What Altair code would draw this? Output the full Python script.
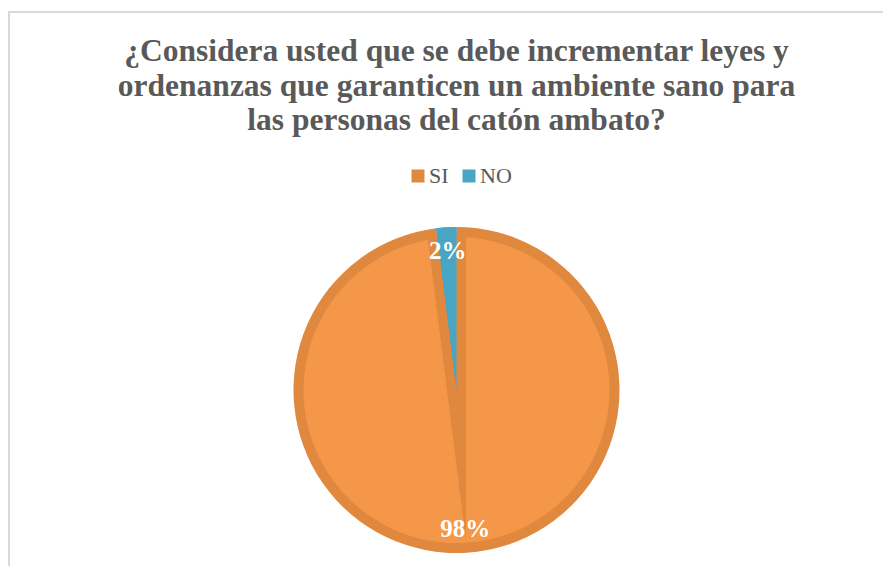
import altair as alt
import pandas as pd

categorias = ["SI", "NO"]
valores = [98, 2]
etiquetas = ["98%", "2%"]
titulo = [
    "¿Considera usted que se debe incrementar leyes y",
    "ordenanzas que garanticen un ambiente sano para",
    "las personas del catón ambato?",
]

df = pd.DataFrame({
    "cat": categorias,
    "valor": valores,
    "etiqueta": etiquetas,
    "orden": list(range(len(categorias))),
})

NARANJA = "#F59748"
NARANJA_OSC = "#E0883E"
AZUL = "#48A6C4"
GRIS = "#595959"
MARCO = "#D9D9D9"
SERIF = "Liberation Serif"

ANCHO = 853
ALTO = 352

theta = alt.Theta("valor:Q", stack=True)
order = alt.Order("orden:Q")
is_si = alt.datum.cat == "SI"

base = alt.Chart(df).encode(theta=theta, order=order)

disco = base.mark_arc(radius=163).encode(
    color=alt.Color(
        "cat:N",
        scale=alt.Scale(domain=categorias, range=[NARANJA_OSC, AZUL]),
        legend=alt.Legend(
            title=None, orient="none", legendX=377, legendY=-49,
            direction="horizontal", symbolType="square", symbolSize=169,
            symbolStrokeWidth=0, labelFont=SERIF, labelFontSize=22,
            labelColor=GRIS, columnPadding=9, labelOffset=0,
        ),
    )
)

interior = base.mark_arc(radius=153).encode(
    fill=alt.condition(is_si, alt.value(NARANJA), alt.value("transparent"))
)

banda = base.mark_arc(
    radius=148, strokeWidth=19, strokeJoin="miter", strokeMiterLimit=40
).encode(
    fill=alt.condition(is_si, alt.value("transparent"), alt.value(NARANJA_OSC)),
    stroke=alt.condition(is_si, alt.value("transparent"), alt.value(NARANJA_OSC)),
)

azul = base.mark_arc(radius=163).encode(
    fill=alt.condition(is_si, alt.value("transparent"), alt.value(AZUL))
)

texto = base.mark_text(
    radius=139, font=SERIF, fontSize=25, fontWeight="bold", color="white"
).encode(text="etiqueta:N", detail="cat:N")

unico = alt.Chart(alt.Data(values=[{}]))

linea_sup = unico.mark_rule(color=MARCO, strokeWidth=2).encode(
    x=alt.value(-22), x2=alt.value(ANCHO), y=alt.value(-202)
)
linea_izq = unico.mark_rule(color=MARCO, strokeWidth=2).encode(
    x=alt.value(-21), y=alt.value(-202), y2=alt.value(ALTO)
)

titulo_txt = unico.mark_text(
    font=SERIF, fontSize=31.5, fontWeight="bold", color=GRIS,
    align="center", baseline="alphabetic", lineHeight=34.5,
).encode(
    x=alt.value(ANCHO / 2), y=alt.value(-153), text=alt.value(titulo)
)

chart = alt.layer(
    linea_sup, linea_izq, titulo_txt, disco, interior, banda, azul, texto
).properties(
    width=ANCHO,
    height=ALTO,
    padding={"left": 22, "top": 206, "right": 0, "bottom": 0},
    autosize=alt.AutoSizeParams(type="none"),
).configure_view(strokeWidth=0)

chart.save("out.html", embed_options={"renderer": "svg", "actions": False})
